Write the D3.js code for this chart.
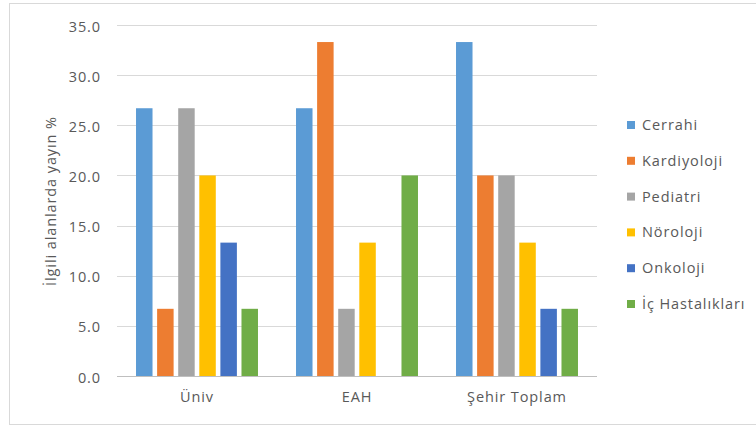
<!DOCTYPE html>
<html>
<head>
<meta charset="utf-8">
<script src="https://cdn.jsdelivr.net/npm/d3@7"></script>
<style>
  body { margin: 0; background: #fff; }
  svg { display: block; }
  text { font-family: "Open Sans", Lato, sans-serif; fill: #595959; letter-spacing: 0.9px; }
</style>
</head>
<body>
<svg id="chart" width="756" height="428"></svg>
<script>
// Categories, series and axis ticks
const categories = ["Üniv", "EAH", "Şehir Toplam"];
const seriesNames = ["Cerrahi", "Kardiyoloji", "Pediatri", "Nöroloji", "Onkoloji", "İç Hastalıkları"];
const seriesColors = ["#5B9BD5", "#ED7D31", "#A5A5A5", "#FFC000", "#4472C4", "#70AD47"];

// Share of publications (%) per field, one value per category
const cerrahi = [26.7, 26.7, 33.3];
const kardiyoloji = [6.7, 33.3, 20.0];
const pediatri = [26.7, 6.7, 20.0];
const noroloji = [20.0, 13.3, 13.3];
const onkoloji = [13.3, 0.0, 6.7];
const icHastaliklari = [6.7, 20.0, 6.7];

const yTicks = [0, 5, 10, 15, 20, 25, 30, 35];
const yTitle = "İlgili alanlarda yayın %";

const seriesValues = [cerrahi, kardiyoloji, pediatri, noroloji, onkoloji, icHastaliklari];

const FONT = 14.5;
const svg = d3.select("#chart");

// Chart frame
svg.append("rect")
  .attr("x", 9.5).attr("y", 3.5)
  .attr("width", 760).attr("height", 421)
  .attr("fill", "#fff")
  .attr("stroke", "#d9d9d9")
  .attr("stroke-width", 1);

const plot = { left: 117, right: 597, top: 25, bottom: 376 };

const y = d3.scaleLinear().domain([0, 35]).range([plot.bottom, plot.top]);
const x0 = d3.scaleBand().domain(categories).range([plot.left, plot.right])
  .paddingInner(0.209).paddingOuter(0.1045);
const x1 = d3.scaleBand().domain(seriesNames).range([0, x0.bandwidth()])
  .paddingInner(0.218).paddingOuter(0.109);

// Gridlines
svg.append("g")
  .selectAll("line")
  .data(yTicks)
  .join("line")
  .attr("x1", plot.left).attr("x2", plot.right)
  .attr("y1", d => Math.round(y(d)) + 0.5)
  .attr("y2", d => Math.round(y(d)) + 0.5)
  .attr("stroke", d => d === 0 ? "#bfbfbf" : "#d9d9d9")
  .attr("stroke-width", 1);

// Y axis labels
const yAxis = d3.axisLeft(y).tickValues(yTicks).tickFormat(d3.format(".1f")).tickSize(0).tickPadding(0);
const gy = svg.append("g").attr("transform", "translate(101,1.5)").call(yAxis);
gy.select(".domain").remove();
gy.selectAll("text")
  .attr("font-size", FONT)
  .style("font-family", "'Open Sans', Lato, sans-serif")
  .attr("fill", "#595959");

// X axis labels
const xAxis = d3.axisBottom(x0).tickSize(0).tickPadding(0);
const gx = svg.append("g").attr("transform", `translate(0,${plot.bottom + 16})`).call(xAxis);
gx.select(".domain").remove();
gx.selectAll("text")
  .attr("font-size", FONT)
  .style("font-family", "'Open Sans', Lato, sans-serif")
  .attr("fill", "#595959");

// Bars
const groups = svg.append("g")
  .selectAll("g")
  .data(categories)
  .join("g")
  .attr("transform", c => `translate(${x0(c)},0)`);

groups.selectAll("rect")
  .data((c, ci) => seriesNames.map((s, si) => ({ s, si, v: seriesValues[si][ci] })))
  .join("rect")
  .attr("x", d => x1(d.s))
  .attr("y", d => y(d.v))
  .attr("width", x1.bandwidth())
  .attr("height", d => y(0) - y(d.v))
  .attr("fill", d => seriesColors[d.si]);

// Y axis title
svg.append("text")
  .attr("transform", "translate(51,201) rotate(-90)")
  .attr("text-anchor", "middle")
  .attr("dy", "0.35em")
  .attr("font-size", FONT)
  .text(yTitle);

// Legend
const legend = svg.append("g")
  .selectAll("g")
  .data(seriesNames)
  .join("g")
  .attr("transform", (d, i) => `translate(627,${125 + i * 35.8})`);

legend.append("rect")
  .attr("x", 0).attr("y", -4)
  .attr("width", 8).attr("height", 8)
  .attr("fill", (d, i) => seriesColors[i]);

legend.append("text")
  .attr("x", 15).attr("y", 0)
  .attr("dy", "0.35em")
  .attr("font-size", FONT)
  .text(d => d);
</script>
</body>
</html>
